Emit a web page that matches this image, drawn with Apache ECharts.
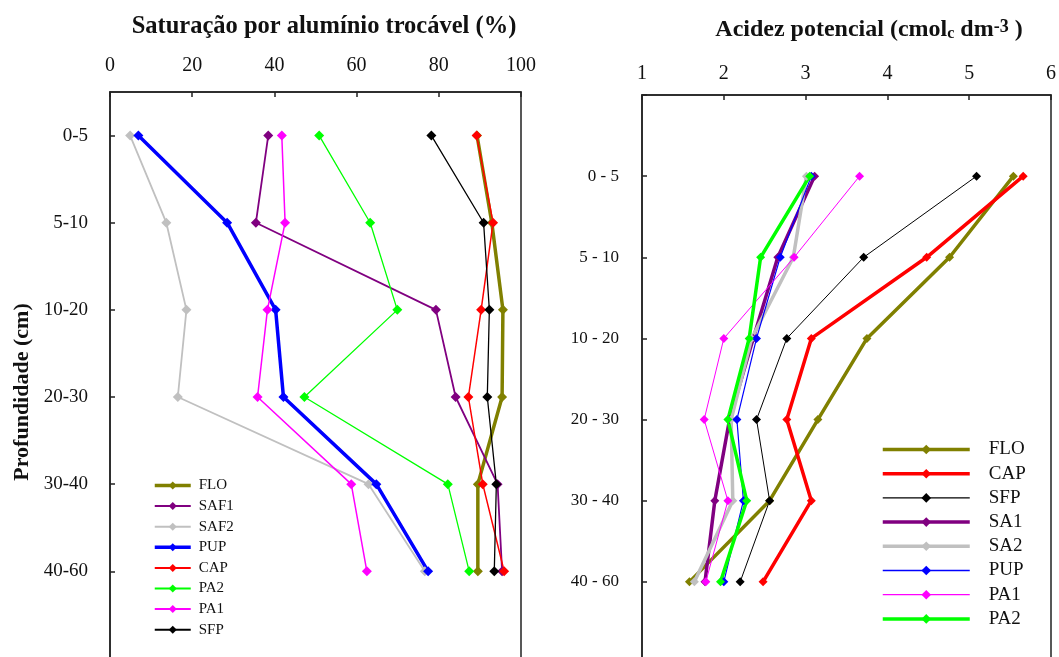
<!DOCTYPE html>
<html><head><meta charset="utf-8">
<script src="https://cdn.jsdelivr.net/npm/echarts@6/dist/echarts.min.js"></script>
<style>html,body{margin:0;padding:0;background:#fff}#c{width:1059px;height:657px}</style>
</head><body><div id="c"></div>
<script>
// ---- data ----
const depthLeft = ['0-5', '5-10', '10-20', '20-30', '30-40', '40-60'];
const depthRight = ['0 - 5', '5 - 10', '10 - 20', '20 - 30', '30 - 40', '40 - 60'];
const satTicks = [0, 20, 40, 60, 80, 100];
const acidTicks = [1, 2, 3, 4, 5, 6];

// Saturação por alumínio trocável (%)
const satFLO  = [89.3, 92.9, 95.6, 95.4, 89.5, 89.5];
const satSAF1 = [38.5, 35.5, 79.3, 84.1, 94.3, 95.4];
const satSAF2 = [4.9, 13.7, 18.6, 16.5, 62.9, 76.6];
const satPUP  = [6.9, 28.5, 40.3, 42.2, 64.8, 77.4];
const satCAP  = [89.2, 93.2, 90.3, 87.2, 90.7, 95.9];
const satPA2  = [50.9, 63.3, 69.9, 47.3, 82.2, 87.4];
const satPA1  = [41.8, 42.6, 38.3, 35.9, 58.7, 62.5];
const satSFP  = [78.2, 90.9, 92.3, 91.8, 94.0, 93.5];

// Acidez potencial (cmolc dm-3)
const acFLO = [5.54, 4.76, 3.75, 3.15, 2.56, 1.58];
const acCAP = [5.66, 4.48, 3.07, 2.77, 3.07, 2.48];
const acSFP = [5.09, 3.71, 2.77, 2.40, 2.56, 2.20];
const acSA1 = [3.11, 2.66, 2.36, 2.07, 1.89, 1.77];
const acSA2 = [3.01, 2.85, 2.34, 2.09, 2.11, 1.64];
const acPUP = [3.07, 2.69, 2.40, 2.16, 2.24, 2.00];
const acPA1 = [3.66, 2.86, 2.00, 1.76, 2.05, 1.78];
const acPA2 = [3.05, 2.45, 2.31, 2.05, 2.28, 1.96];

// ---- chart ----
const FONT = '"Liberation Serif", "Times New Roman", serif';
const chart = echarts.init(document.getElementById('c'), null, {renderer: 'canvas'});

function mkLeft(name, vals, color, width) {
  return {
    name: name, type: 'line', xAxisIndex: 0, yAxisIndex: 0,
    data: vals.map((v, i) => [v, i]),
    symbol: 'diamond', symbolSize: 10,
    lineStyle: {color: color, width: width},
    itemStyle: {color: color},
    animation: false
  };
}
function mkRight(name, vals, color, width) {
  return {
    name: 'R-' + name, type: 'line', xAxisIndex: 1, yAxisIndex: 1,
    data: vals.map((v, i) => [v, i + 1]),
    symbol: 'diamond', symbolSize: 9,
    lineStyle: {color: color, width: width},
    itemStyle: {color: color},
    animation: false
  };
}

const axisLineStyle = {color: '#222', width: 1.5};

const option = {
  backgroundColor: '#fff',
  animation: false,
  grid: [
    {left: 110, top: 92, width: 411, height: 610, show: true, borderColor: '#222', borderWidth: 1.5,
     containLabel: false, outerBoundsMode: 'none'},
    {left: 642, top: 95, width: 409, height: 568, show: true, borderColor: '#222', borderWidth: 1.5,
     containLabel: false, outerBoundsMode: 'none'}
  ],
  xAxis: [
    {
      type: 'value', gridIndex: 0, position: 'top', min: satTicks[0], max: satTicks[satTicks.length - 1], interval: 20,
      axisLine: {show: true, lineStyle: axisLineStyle},
      axisTick: {show: true, inside: true, length: 5, lineStyle: axisLineStyle},
      axisLabel: {fontFamily: FONT, fontSize: 20, color: '#111', margin: 16},
      splitLine: {show: false}
    },
    {
      type: 'value', gridIndex: 1, position: 'top', min: acidTicks[0], max: acidTicks[acidTicks.length - 1], interval: 1,
      axisLine: {show: true, lineStyle: axisLineStyle},
      axisTick: {show: true, inside: true, length: 5, lineStyle: axisLineStyle},
      axisLabel: {fontFamily: FONT, fontSize: 20, color: '#111', margin: 11},
      splitLine: {show: false}
    }
  ],
  yAxis: [
    {
      type: 'category', gridIndex: 0, inverse: true, boundaryGap: true,
      data: depthLeft.concat(['']),
      axisLine: {show: true, lineStyle: axisLineStyle},
      axisTick: {show: true, inside: true, alignWithLabel: true, length: 5, lineStyle: axisLineStyle,
                 interval: (i) => i < depthLeft.length},
      axisLabel: {fontFamily: FONT, fontSize: 19, color: '#111', margin: 22},
      splitLine: {show: false}
    },
    {
      type: 'value', gridIndex: 1, inverse: true, min: 0, max: 7, interval: 1,
      axisLine: {show: true, lineStyle: axisLineStyle},
      axisTick: {show: true, inside: true, length: 5, lineStyle: axisLineStyle},
      axisLabel: {fontFamily: FONT, fontSize: 17, color: '#111', margin: 23,
                  formatter: (v) => (v >= 1 && v <= depthRight.length) ? depthRight[v - 1] : ''},
      splitLine: {show: false}
    }
  ],
  legend: [
    {
      orient: 'vertical', left: 148, top: 473,
      itemWidth: 36, itemHeight: 10, itemGap: 5.6,
      data: [
        {name: 'FLO', lineStyle: {width: 3.5}},
        {name: 'SAF1', lineStyle: {width: 2}},
        {name: 'SAF2', lineStyle: {width: 2}},
        {name: 'PUP', lineStyle: {width: 3.5}},
        {name: 'CAP', lineStyle: {width: 2}},
        {name: 'PA2', lineStyle: {width: 2}},
        {name: 'PA1', lineStyle: {width: 2}},
        {name: 'SFP', lineStyle: {width: 2}}
      ],
      textStyle: {fontFamily: FONT, fontSize: 15, lineHeight: 14, color: '#111', padding: [0, 0, 0, 3]},
      selectedMode: false
    },
    {
      orient: 'vertical', left: 876, top: 435,
      itemWidth: 87, itemHeight: 12, itemGap: 5.2,
      data: [
        {name: 'R-FLO', lineStyle: {width: 3.5}},
        {name: 'R-CAP', lineStyle: {width: 3.5}},
        {name: 'R-SFP', lineStyle: {width: 1.3}},
        {name: 'R-SA1', lineStyle: {width: 3.5}},
        {name: 'R-SA2', lineStyle: {width: 3.5}},
        {name: 'R-PUP', lineStyle: {width: 1.3}},
        {name: 'R-PA1', lineStyle: {width: 1.3}},
        {name: 'R-PA2', lineStyle: {width: 3.5}}
      ],
      formatter: (n) => n.replace('R-', ''),
      textStyle: {fontFamily: FONT, fontSize: 19, lineHeight: 17, color: '#111', padding: [0, 0, 0, 14]},
      selectedMode: false
    }
  ],
  graphic: [
    {
      type: 'text', x: 324, y: 27,
      style: {
        text: 'Saturação por alumínio trocável (%)',
        font: 'bold 24.5px ' + FONT, fill: '#111',
        align: 'center', verticalAlign: 'middle', textAlign: 'center', textVerticalAlign: 'middle'
      }
    },
    {
      type: 'text', x: 869, y: 30,
      style: {
        text: 'Acidez potencial (cmol{sub|c} dm{sup|-3} )',
        font: 'bold 24px ' + FONT, fill: '#111',
        align: 'center', verticalAlign: 'middle', textAlign: 'center', textVerticalAlign: 'middle',
        rich: {
          sub: {font: 'bold 16px ' + FONT, fill: '#111', lineHeight: 16, verticalAlign: 'bottom'},
          sup: {font: 'bold 18px ' + FONT, fill: '#111', lineHeight: 18, verticalAlign: 'top'}
        }
      }
    },
    {
      type: 'text', x: 22, y: 392, rotation: Math.PI / 2,
      style: {
        text: 'Profundidade (cm)',
        font: 'bold 22px ' + FONT, fill: '#111',
        align: 'center', verticalAlign: 'middle', textAlign: 'center', textVerticalAlign: 'middle'
      }
    }
  ],
  series: [
    mkLeft('FLO', satFLO, '#808000', 3.5),
    mkLeft('SAF1', satSAF1, '#800080', 1.8),
    mkLeft('SAF2', satSAF2, '#c0c0c0', 1.8),
    mkLeft('PUP', satPUP, '#0000ff', 3.5),
    mkLeft('CAP', satCAP, '#ff0000', 1.5),
    mkLeft('PA2', satPA2, '#00ff00', 1.3),
    mkLeft('PA1', satPA1, '#ff00ff', 1.5),
    mkLeft('SFP', satSFP, '#000000', 1.3),

    mkRight('FLO', acFLO, '#808000', 3.5),
    mkRight('CAP', acCAP, '#ff0000', 3.5),
    mkRight('SFP', acSFP, '#000000', 1),
    mkRight('SA1', acSA1, '#800080', 3.5),
    mkRight('SA2', acSA2, '#c0c0c0', 3.5),
    mkRight('PUP', acPUP, '#0000ff', 1.2),
    mkRight('PA1', acPA1, '#ff00ff', 1),
    mkRight('PA2', acPA2, '#00ff00', 3.5)
  ]
};
chart.setOption(option);
</script>
</body></html>
